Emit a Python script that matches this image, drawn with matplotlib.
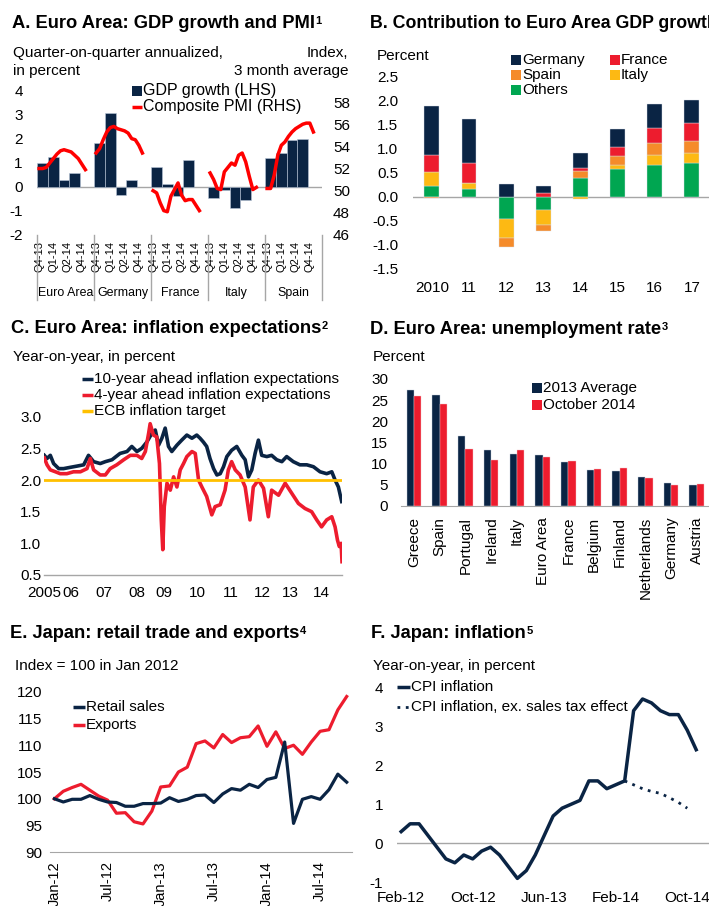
import matplotlib
matplotlib.use('Agg')
import matplotlib.pyplot as plt
import matplotlib.transforms as mtransforms
from matplotlib.patches import Rectangle
from matplotlib.lines import Line2D
import numpy as np
import pandas as pd

plt.rcParams['font.family'] = ['Liberation Sans', 'DejaVu Sans']
plt.rcParams['axes.unicode_minus'] = False

# ======================= DATA =======================
# Panel A: GDP growth (quarterly, Q4-13..Q3-14) and composite PMI (monthly, Oct-13..Nov-14)
a_groups = ['Euro Area', 'Germany', 'France', 'Italy', 'Spain']
a_tick_labels = ['Q4-13', 'Q1-14', 'Q2-14', 'Q4-14']
gdp_euro_area = [1.0, 1.25, 0.3, 0.6]
gdp_germany = [1.83, 3.1, -0.32, 0.29]
gdp_france = [0.85, 0.12, -0.39, 1.13]
gdp_italy = [-0.44, -0.13, -0.89, -0.53]
gdp_spain = [1.19, 1.40, 1.96, 2.01]
pmi_euro_area = [52.0, 52.0, 52.1, 52.5, 52.9, 53.3, 53.6, 53.7, 53.6, 53.5, 53.2, 52.9, 52.4, 51.9]
pmi_germany = [53.4, 53.8, 54.6, 55.3, 55.7, 55.8, 55.6, 55.5, 55.4, 55.2, 54.7, 54.6, 54.1, 53.4]
pmi_france = [50.0, 49.8, 48.9, 48.2, 48.1, 49.5, 50.1, 50.7, 49.6, 49.1, 49.2, 49.2, 48.7, 48.2]
pmi_italy = [51.6, 51.0, 50.2, 50.1, 51.7, 52.1, 52.5, 52.3, 53.2, 53.4, 52.6, 51.3, 50.1, 50.3]
pmi_spain = [50.2, 50.2, 51.4, 53.2, 54.1, 54.4, 54.9, 55.3, 55.6, 55.8, 56.0, 56.1, 56.1, 55.3]

# Panel B: contributions to Euro Area GDP growth
b_years = ['2010', '11', '12', '13', '14', '15', '16', '17']
b_others = [0.23, 0.17, -0.465, -0.285, 0.38, 0.58, 0.67, 0.71]
b_italy = [0.28, 0.11, -0.395, -0.315, -0.05, 0.08, 0.20, 0.20]
b_spain = [-0.03, 0.0, -0.18, -0.12, 0.155, 0.195, 0.25, 0.25]
b_france = [0.36, 0.43, 0.0, 0.07, 0.065, 0.18, 0.31, 0.38]
b_germany = [1.02, 0.915, 0.26, 0.15, 0.32, 0.365, 0.51, 0.47]

# Panel C: inflation expectations (decimal years)
c_dates_10y = [2005.00, 2005.09, 2005.20, 2005.31, 2005.48, 2005.64, 2005.86, 2006.09, 2006.31, 2006.47,
               2006.64, 2006.86, 2007.03, 2007.25, 2007.52, 2007.75, 2007.91, 2008.08, 2008.24, 2008.41,
               2008.58, 2008.69, 2008.80, 2008.91, 2009.02, 2009.13, 2009.24, 2009.41, 2009.57, 2009.74,
               2009.91, 2010.07, 2010.18, 2010.29, 2010.40, 2010.51, 2010.63, 2010.74, 2010.85, 2010.96,
               2011.07, 2011.23, 2011.40, 2011.57, 2011.68, 2011.79, 2011.90, 2012.01, 2012.12, 2012.23,
               2012.40, 2012.56, 2012.73, 2012.90, 2013.06, 2013.28, 2013.50, 2013.73, 2013.95, 2014.17,
               2014.39, 2014.56, 2014.67, 2014.78, 2014.89]
c_infl_10y = [2.39, 2.34, 2.39, 2.26, 2.18, 2.18, 2.20, 2.22, 2.24, 2.39,
              2.29, 2.26, 2.29, 2.32, 2.42, 2.45, 2.53, 2.45, 2.50, 2.60,
              2.74, 2.79, 2.55, 2.66, 2.82, 2.53, 2.45, 2.55, 2.63, 2.71,
              2.66, 2.71, 2.66, 2.60, 2.53, 2.34, 2.18, 2.08, 2.10, 2.21,
              2.37, 2.47, 2.53, 2.39, 2.32, 2.05, 2.16, 2.42, 2.63, 2.39,
              2.37, 2.39, 2.32, 2.29, 2.37, 2.29, 2.24, 2.24, 2.21, 2.13,
              2.10, 2.13, 2.00, 1.89, 1.66]
c_dates_4y = [2005.00, 2005.09, 2005.20, 2005.37, 2005.53, 2005.75, 2005.97, 2006.20, 2006.42, 2006.53,
              2006.64, 2006.86, 2007.03, 2007.19, 2007.41, 2007.64, 2007.86, 2008.08, 2008.24, 2008.36,
              2008.47, 2008.52, 2008.63, 2008.74, 2008.83, 2008.89, 2008.94, 2008.99, 2009.08, 2009.19,
              2009.30, 2009.41, 2009.52, 2009.63, 2009.74, 2009.91, 2010.02, 2010.13, 2010.24, 2010.40,
              2010.57, 2010.68, 2010.85, 2011.01, 2011.12, 2011.23, 2011.35, 2011.51, 2011.68, 2011.84,
              2011.95, 2012.12, 2012.29, 2012.45, 2012.56, 2012.79, 2013.01, 2013.23, 2013.45, 2013.67,
              2013.89, 2014.06, 2014.22, 2014.39, 2014.56, 2014.67, 2014.75, 2014.81, 2014.87, 2014.90]
c_infl_4y = [2.35, 2.24, 2.16, 2.13, 2.10, 2.10, 2.13, 2.13, 2.18, 2.34,
             2.16, 2.08, 2.08, 2.18, 2.24, 2.32, 2.39, 2.39, 2.34, 2.45,
             2.74, 2.89, 2.71, 2.68, 2.26, 1.37, 0.90, 1.58, 1.95, 1.84,
             2.05, 1.89, 2.16, 2.26, 2.37, 2.45, 2.42, 2.00, 1.89, 1.74,
             1.45, 1.58, 1.61, 1.84, 2.16, 2.29, 2.16, 2.08, 1.89, 1.37,
             1.89, 2.00, 1.87, 1.42, 1.84, 1.76, 1.95, 1.79, 1.63, 1.55,
             1.50, 1.37, 1.26, 1.37, 1.42, 1.26, 1.05, 0.95, 1.00, 0.71]
c_target = 2.0
c_year_labels = ['2005', '06', '07', '08', '09', '10', '11', '12', '13', '14']

# Panel D: unemployment rates
d_countries = ['Greece', 'Spain', 'Portugal', 'Ireland', 'Italy', 'Euro Area', 'France',
               'Belgium', 'Finland', 'Netherlands', 'Germany', 'Austria']
d_avg_2013 = [27.5, 26.1, 16.4, 13.1, 12.2, 12.0, 10.3, 8.4, 8.2, 6.7, 5.3, 4.9]
d_oct_2014 = [25.9, 24.0, 13.4, 10.9, 13.2, 11.5, 10.5, 8.6, 8.9, 6.5, 4.9, 5.1]

# Panel E: Japan retail sales and exports (index, Jan-12 .. Oct-14)
e_retail = [100.0, 99.4, 99.9, 99.9, 100.6, 99.9, 99.4, 99.3, 98.6, 98.6, 99.1, 99.1,
            99.2, 100.2, 99.5, 99.9, 100.6, 100.7, 99.3, 100.9, 101.9, 101.6, 102.7, 102.1,
            103.6, 104.0, 110.6, 95.4, 99.9, 100.4, 99.9, 101.7, 104.6, 103.1]
e_exports = [100.0, 101.4, 102.1, 102.7, 101.6, 100.5, 99.75, 97.3, 97.4, 95.7, 95.3, 97.7,
             102.2, 102.4, 105.0, 105.9, 110.3, 110.8, 109.5, 112.0, 110.5, 111.4, 111.6, 113.6,
             109.8, 112.5, 109.4, 110.0, 108.3, 110.6, 112.6, 112.9, 116.6, 119.1]

# Panel F: Japan CPI inflation (Feb-12 .. Nov-14) and ex. sales tax (Mar-14 .. Oct-14)
f_cpi = [0.3, 0.5, 0.5, 0.2, -0.1, -0.4, -0.5, -0.3, -0.4, -0.2, -0.1, -0.3,
         -0.6, -0.9, -0.7, -0.3, 0.2, 0.7, 0.9, 1.0, 1.1, 1.6, 1.6, 1.4,
         1.5, 1.6, 3.4, 3.7, 3.6, 3.4, 3.3, 3.3, 2.9, 2.4]
f_cpi_ex_tax = [1.6, 1.5, 1.4, 1.33, 1.28, 1.17, 1.05, 0.9]
f_ex_tax_start = 'Mar-14'

# ======================= STYLE =======================
NAVY = '#0a2444'
RED = '#ed1c2e'
BRIGHT_RED = '#ff0000'
ORANGE = '#f58b2a'
YELLOW = '#fdb913'
GREEN = '#00a651'
GOLD = '#ffc000'
GRAY = '#a6a6a6'
FS = 11
TFS = 13.2

W, H = 709, 906
fig = plt.figure(figsize=(W / 100, H / 100), dpi=100)


def fx(x):
    return x / W


def fy(y):
    return 1 - y / H


def add_ax(x0, y0, x1, y1):
    ax = fig.add_axes([fx(x0), fy(y1), (x1 - x0) / W, (y1 - y0) / H])
    for s in ax.spines.values():
        s.set_visible(False)
    ax.tick_params(length=0, labelsize=FS)
    return ax


def ftext(x, y, s, **kw):
    kw.setdefault('fontsize', FS)
    kw.setdefault('va', 'center')
    kw.setdefault('ha', 'left')
    return fig.text(fx(x), fy(y), s, **kw)


titles = []


def title(x, y, s, sup, fs=TFS):
    t = ftext(x, y, s, fontsize=fs, weight='bold')
    titles.append((t, sup))


def leg_square(x, y, color, label, size=10, fs=FS):
    fig.add_artist(Rectangle((fx(x), fy(y + size / 2)), size / W, size / H,
                             transform=fig.transFigure, color=color, lw=0))
    ftext(x + size + 1, y, label, fontsize=fs)


def leg_line(x0, x1, y, color, label, ls='-', lw=2.5, fs=FS):
    fig.add_artist(Line2D([fx(x0), fx(x1)], [fy(y), fy(y)], transform=fig.transFigure,
                          color=color, lw=lw, ls=ls, solid_capstyle='butt'))
    ftext(x1 + 1, y, label, fontsize=fs)


# ======================= PANEL A =======================
title(12, 23, 'A. Euro Area: GDP growth and PMI', '1')
ftext(13, 53, 'Quarter-on-quarter annualized,')
ftext(13, 71, 'in percent')
ftext(348, 53, 'Index,', ha='right')
ftext(348, 71, '3 month average', ha='right')

months_per_group = 16
tick_months = [0, 4, 8, 12]
gdp_all = [gdp_euro_area, gdp_germany, gdp_france, gdp_italy, gdp_spain]
pmi_all = [pmi_euro_area, pmi_germany, pmi_france, pmi_italy, pmi_spain]

axA = add_ax(37.3, 91, 322.3, 235)
axA.axhline(0, color=GRAY, lw=1, zorder=1)
for g, vals in enumerate(gdp_all):
    xs = [g * months_per_group + 3 * q for q in range(len(vals))]
    axA.bar(xs, vals, width=3, align='edge', color=NAVY, edgecolor='#b9c6d8', linewidth=0.4, zorder=2)
axA.set_xlim(0, months_per_group * len(a_groups))
axA.set_ylim(-2, 4)
axA.set_yticks(range(-2, 5))
axA.tick_params(axis='y', pad=10.5)
xt = [g * months_per_group + m + 0.5 for g in range(len(a_groups)) for m in tick_months]
axA.set_xticks(xt)
axA.set_xticklabels(a_tick_labels * len(a_groups), rotation=90, fontsize=8)
axA.tick_params(axis='x', pad=4.3)
trA = mtransforms.blended_transform_factory(axA.transData, axA.transAxes)
for g in range(len(a_groups) + 1):
    axA.plot([g * months_per_group] * 2, [0, -0.45], transform=trA, color=GRAY, lw=1, clip_on=False)
for g, name in enumerate(a_groups):
    axA.text(g * months_per_group + months_per_group / 2, -0.40, name, transform=trA,
             ha='center', va='center', fontsize=8.9)

axA2 = axA.twinx()
for s in axA2.spines.values():
    s.set_visible(False)
axA2.set_ylim(46, 59)
axA2.set_yticks(range(46, 59, 2))
axA2.tick_params(length=0, labelsize=FS, pad=7.7)
for g, vals in enumerate(pmi_all):
    xs = [g * months_per_group + k + 0.5 for k in range(len(vals))]
    axA2.plot(xs, vals, color=BRIGHT_RED, lw=2.5, solid_joinstyle='round')

leg_square(132, 91, NAVY, 'GDP growth (LHS)', size=10, fs=11.5)
leg_line(132, 142, 107, BRIGHT_RED, 'Composite PMI (RHS)', lw=2.5, fs=11.5)

# ======================= PANEL B =======================
title(370, 23, 'B. Contribution to Euro Area GDP growth', '', fs=12.8)
ftext(377, 56, 'Percent')
axB = add_ax(413.3, 76.7, 710.5, 268.7)
axB.axhline(0, color=GRAY, lw=1, zorder=1)
xb = np.arange(len(b_years))
pos_bottom = np.zeros(len(b_years))
neg_bottom = np.zeros(len(b_years))
for vals, col in [(b_others, GREEN), (b_italy, YELLOW), (b_spain, ORANGE),
                  (b_france, RED), (b_germany, NAVY)]:
    v = np.array(vals)
    bottoms = np.where(v >= 0, pos_bottom, neg_bottom)
    axB.bar(xb, v, width=0.4, bottom=bottoms, color=col, edgecolor='#d9dee8', linewidth=0.3, zorder=2)
    pos_bottom = pos_bottom + np.where(v >= 0, v, 0)
    neg_bottom = neg_bottom + np.where(v < 0, v, 0)
axB.set_xlim(-0.5, len(b_years) - 0.5)
axB.set_ylim(-1.5, 2.5)
yb = np.arange(-1.5, 2.51, 0.5)
axB.set_yticks(yb)
axB.set_yticklabels(['%.1f' % v for v in yb])
axB.tick_params(axis='y', pad=10.8)
axB.set_xticks(xb)
axB.set_xticklabels(b_years)
axB.tick_params(axis='x', pad=8.5)

leg_square(511, 60, NAVY, 'Germany')
leg_square(511, 75, ORANGE, 'Spain')
leg_square(511, 90, GREEN, 'Others')
leg_square(610, 60, RED, 'France')
leg_square(610, 75, YELLOW, 'Italy')

# ======================= PANEL C =======================
title(11, 328, 'C. Euro Area: inflation expectations', '2')
ftext(13, 357, 'Year-on-year, in percent')
axC = add_ax(44, 416.7, 342, 575)
axC.spines['bottom'].set_visible(True)
axC.spines['bottom'].set_color(GRAY)
axC.spines['bottom'].set_linewidth(1)
axC.plot(c_dates_10y, c_infl_10y, color=NAVY, lw=2.6, zorder=2)
axC.plot(c_dates_4y, c_infl_4y, color=RED, lw=2.6, zorder=3)
axC.axhline(c_target, color=GOLD, lw=2, zorder=4)
axC.set_xlim(2005.0, 2014.9)
axC.set_ylim(0.5, 3.0)
yc = np.arange(0.5, 3.01, 0.5)
axC.set_yticks(yc)
axC.set_yticklabels(['%.1f' % v for v in yc])
axC.tick_params(axis='y', pad=2)
c_label_pos = [2004.99, 2005.88, 2006.97, 2008.07, 2008.96, 2010.1, 2011.2, 2012.25, 2013.17, 2014.23]
axC.set_xticks(c_label_pos)
axC.set_xticklabels(c_year_labels)
axC.tick_params(axis='x', pad=8)

leg_line(82, 93, 379, NAVY, '10-year ahead inflation expectations', lw=2.5)
leg_line(82, 93, 395, RED, '4-year ahead inflation expectations', lw=2.5)
leg_line(82, 93, 411, GOLD, 'ECB inflation target', lw=2.5)

# ======================= PANEL D =======================
title(370, 330, 'D. Euro Area: unemployment rate', '3')
ftext(373, 357, 'Percent')
axD = add_ax(401.2, 379, 709.6, 505.7)
axD.spines['bottom'].set_visible(True)
axD.spines['bottom'].set_color(GRAY)
xd = np.arange(len(d_countries))
bw = 0.285
axD.bar(xd - bw / 2, d_avg_2013, width=bw, color=NAVY, edgecolor='#c3cdda', linewidth=0.3, zorder=2)
axD.bar(xd + bw / 2, d_oct_2014, width=bw, color=RED, edgecolor='#f3c3c8', linewidth=0.3, zorder=2)
axD.set_xlim(-0.5, len(d_countries) - 0.5)
axD.set_ylim(0, 30)
axD.set_yticks(range(0, 31, 5))
axD.tick_params(axis='y', pad=9.4)
axD.set_xticks(xd)
axD.set_xticklabels(d_countries, rotation=90)
axD.tick_params(axis='x', pad=7.9)

leg_square(532, 388, NAVY, '2013 Average')
leg_square(532, 405, RED, 'October 2014')

# ======================= PANEL E =======================
title(10, 633, 'E. Japan: retail trade and exports', '4')
ftext(15, 666, 'Index = 100 in Jan 2012')
e_months = pd.date_range('2012-01-01', periods=len(e_retail), freq='MS').strftime('%b-%y').tolist()
axE = add_ax(50, 691.7, 352, 852.3)
axE.spines['bottom'].set_visible(True)
axE.spines['bottom'].set_color(GRAY)
xe = np.arange(len(e_months))
axE.plot(xe, e_retail, color=NAVY, lw=2.3, zorder=3)
axE.plot(xe, e_exports, color=RED, lw=2.3, zorder=2)
axE.set_xlim(-0.5, len(e_months) - 0.4)
axE.set_ylim(90, 120)
axE.set_yticks(range(90, 121, 5))
axE.tick_params(axis='y', pad=5.8)
axE.set_xticks(xe[::6])
axE.set_xticklabels(e_months[::6], rotation=90, fontsize=10.5)
axE.tick_params(axis='x', pad=6.5)

leg_line(73, 85, 707, NAVY, 'Retail sales', lw=2.5)
leg_line(73, 85, 725, RED, 'Exports', lw=2.5)

# ======================= PANEL F =======================
title(371, 633, 'F. Japan: inflation', '5')
ftext(373, 666, 'Year-on-year, in percent')
f_months = pd.date_range('2012-02-01', periods=35, freq='MS').strftime('%b-%y').tolist()
axF = add_ax(396.7, 687.3, 709.6, 882.3)
axF.axhline(0, color=GRAY, lw=1, zorder=1)
xf = np.arange(len(f_cpi))
axF.plot(xf, f_cpi, color=NAVY, lw=2.5, zorder=3)
start = f_months.index(f_ex_tax_start)
axF.plot(np.arange(start, start + len(f_cpi_ex_tax)), f_cpi_ex_tax, color=NAVY, lw=2,
         ls=(0, (1, 2)), zorder=3)
axF.set_xlim(-0.5, len(f_months) - 0.5)
axF.set_ylim(-1, 4)
axF.set_yticks(range(-1, 5))
axF.tick_params(axis='y', pad=9.9)
axF.set_xticks(np.arange(0, len(f_months), 8))
axF.set_xticklabels(f_months[::8])
axF.tick_params(axis='x', pad=6.3)

leg_line(397, 410, 687, NAVY, 'CPI inflation', lw=2.5)
leg_line(397, 410, 707, NAVY, 'CPI inflation, ex. sales tax effect', ls=(0, (1, 2)), lw=2)

# superscripts after titles
fig.canvas.draw()
renderer = fig.canvas.get_renderer()
for t, sup in titles:
    if not sup:
        continue
    bb = t.get_window_extent(renderer)
    fig.text(bb.x1 / W + 0.5 / W, bb.y1 / H - 1 / H, sup, fontsize=8, weight='bold', ha='left', va='top')

fig.savefig('out.png', dpi=100)
